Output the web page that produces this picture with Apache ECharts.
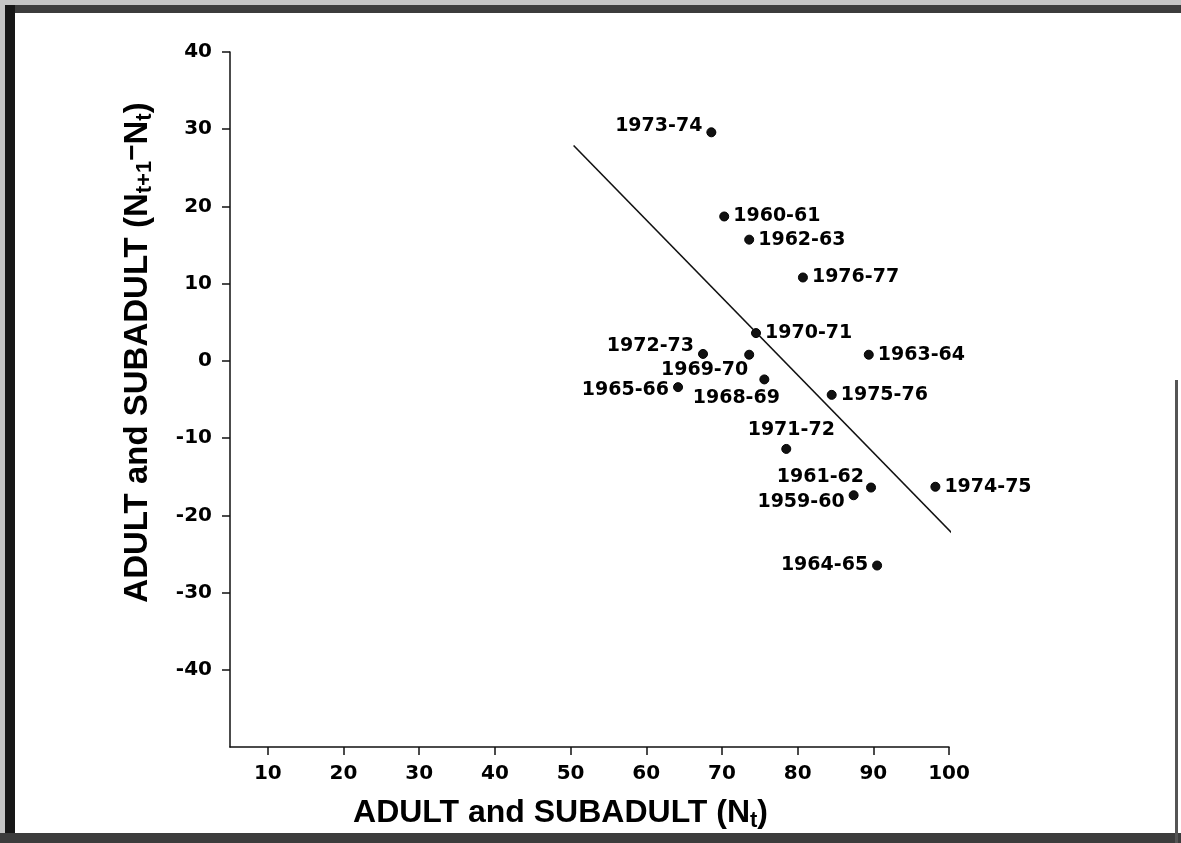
<!DOCTYPE html>
<html>
<head>
<meta charset="utf-8">
<script src="https://cdn.jsdelivr.net/npm/echarts@6/dist/echarts.min.js"></script>
<style>
  html, body { margin: 0; padding: 0; background: #fff; }
  #chart { width: 1181px; height: 843px; }
</style>
</head>
<body>
<div id="chart"></div>
<script>
// seasons (Nt -> Nt+1 change)
var seasons = ['1959-60', '1960-61', '1961-62', '1962-63', '1963-64', '1964-65', '1965-66',
    '1968-69', '1969-70', '1970-71', '1971-72', '1972-73', '1973-74', '1974-75', '1975-76', '1976-77'];
var nt = [87.4, 70.3, 89.7, 73.6, 89.4, 90.5, 64.2, 75.6, 73.6, 74.5, 78.5, 67.5, 68.6, 98.2, 84.5, 80.7];
var change = [-17.4, 18.7, -16.4, 15.7, 0.8, -26.5, -3.4, -2.4, 0.8, 3.6, -11.4, 0.9, 29.6, -16.3, -4.4, 10.8];

// fitted regression line end points
var fitX = [50.4, 100.5];
var fitY = [27.9, -22.4];

// axis ticks
var xTicks = [10, 20, 30, 40, 50, 60, 70, 80, 90, 100];
var yTicks = [-40, -30, -20, -10, 0, 10, 20, 30, 40];

// where each season label sits relative to its dot (default: right)
var labelPlace = {
    '1973-74': { position: 'left', offset: [0, -6] },
    '1972-73': { position: 'left', offset: [0, -8] },
    '1969-70': { position: 'left', offset: [8, 15] },
    '1965-66': { position: 'left', offset: [0, 3] },
    '1968-69': { position: 'bottom', offset: [-28, 0] },
    '1971-72': { position: 'top', offset: [5, 0] },
    '1961-62': { position: 'left', offset: [2, -10] },
    '1959-60': { position: 'left', offset: [0, 7] },
    '1964-65': { position: 'left', offset: [0, 0] }
};

var cFont = 'DejaVu Sans';
var cTitleFont = 'Liberation Sans';

var aoPoints = [];
for (var i = 0; i < seasons.length; i++) {
    var oItem = { value: [nt[i], change[i]] };
    if (labelPlace[seasons[i]]) {
        oItem.label = labelPlace[seasons[i]];
    }
    aoPoints.push(oItem);
}

var aoFit = [];
for (var j = 0; j < fitX.length; j++) {
    aoFit.push([fitX[j], fitY[j]]);
}

var oTitleRich = {
    sub: { fontSize: 22, fontFamily: cTitleFont, fontWeight: 'bold', color: '#000', padding: [15, 0, 0, 0] },
    sup: { fontSize: 28, fontFamily: cTitleFont, fontWeight: 'bold', color: '#000', padding: [0, 0, 8, 0] }
};

var oChart = echarts.init(document.getElementById('chart'), null, { renderer: 'canvas' });

var oOption = {
    backgroundColor: '#ffffff',
    animation: false,
    grid: { left: 230, right: 232, top: 52, bottom: 96, containLabel: false },
    xAxis: {
        type: 'value',
        min: 5,
        max: 100,
        name: 'ADULT and SUBADULT (N{sub|t})',
        nameLocation: 'middle',
        nameGap: 48,
        nameTextStyle: {
            fontFamily: cTitleFont, fontWeight: 'bold', fontSize: 32, color: '#000',
            padding: [0, 58, 0, 0], rich: oTitleRich
        },
        axisLine: { onZero: false, lineStyle: { color: '#111', width: 1.5 } },
        axisTick: { customValues: xTicks, length: 8, lineStyle: { color: '#111', width: 1.5 } },
        axisLabel: {
            customValues: xTicks, margin: 17,
            fontFamily: cFont, fontWeight: 'bold', fontSize: 20, color: '#000'
        },
        splitLine: { show: false }
    },
    yAxis: {
        type: 'value',
        min: -50,
        max: 40,
        name: 'ADULT and SUBADULT (N{sub|t+1}{sup|\u2212}N{sub|t})',
        nameLocation: 'middle',
        nameGap: 74,
        nameTextStyle: {
            fontFamily: cTitleFont, fontWeight: 'bold', fontSize: 33, color: '#000',
            padding: [0, 0, 0, 94], rich: oTitleRich
        },
        axisLine: { onZero: false, lineStyle: { color: '#111', width: 1.5 } },
        axisTick: { customValues: yTicks, length: 8, lineStyle: { color: '#111', width: 1.5 } },
        axisLabel: {
            customValues: yTicks, margin: 18,
            fontFamily: cFont, fontWeight: 'bold', fontSize: 20, color: '#000'
        },
        splitLine: { show: false }
    },
    series: [
        {
            name: 'fit',
            type: 'line',
            data: aoFit,
            clip: false,
            symbol: 'none',
            silent: true,
            lineStyle: { color: '#111', width: 1.6 }
        },
        {
            name: 'seasons',
            type: 'scatter',
            data: aoPoints,
            symbol: 'circle',
            symbolSize: 9,
            itemStyle: { color: '#111', borderColor: '#000', borderWidth: 1, opacity: 1 },
            label: {
                show: true,
                position: 'right',
                distance: 4,
                formatter: function (params) {
                    return seasons[params.dataIndex];
                },
                fontFamily: cFont,
                fontWeight: 'bold',
                fontSize: 19,
                color: '#000',
                opacity: 1,
                textBorderWidth: 0
            }
        }
    ],
    graphic: [
        // scanned frame round the figure
        { type: 'rect', shape: { x: 0, y: 0, width: 1181, height: 5 }, style: { fill: '#c4c4c4' }, silent: true },
        { type: 'rect', shape: { x: 0, y: 5, width: 1181, height: 8 }, style: { fill: '#3c3c3c' }, silent: true },
        { type: 'rect', shape: { x: 0, y: 0, width: 5, height: 843 }, style: { fill: '#c4c4c4' }, silent: true },
        { type: 'rect', shape: { x: 5, y: 5, width: 10, height: 838 }, style: { fill: '#161616' }, silent: true },
        { type: 'rect', shape: { x: 0, y: 833, width: 1181, height: 10 }, style: { fill: '#3c3c3c' }, silent: true },
        { type: 'rect', shape: { x: 1175, y: 380, width: 3, height: 463 }, style: { fill: '#555' }, silent: true }
    ]
};

oChart.setOption(oOption);
</script>
</body>
</html>
